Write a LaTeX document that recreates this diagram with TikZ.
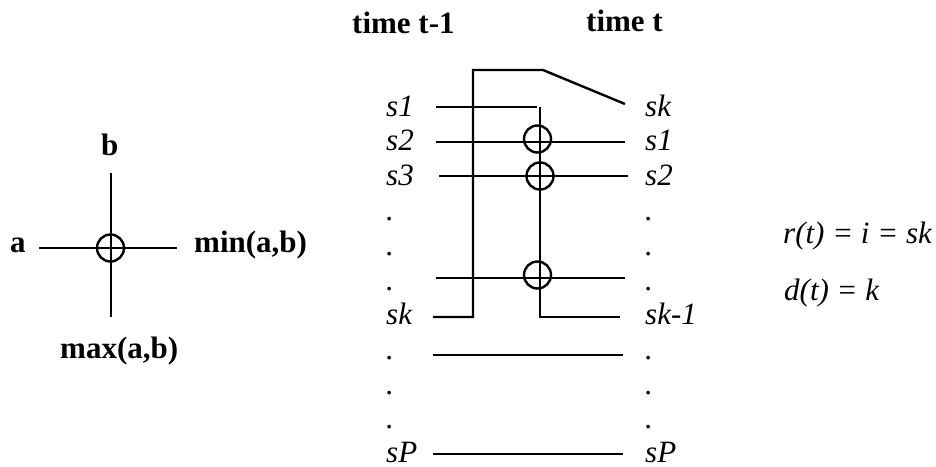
\documentclass[tikz,border=0pt]{standalone}
\usepackage{fontspec}
\setmainfont{Liberation Serif}
\begin{document}
\begin{tikzpicture}[x=1pt,y=-1pt,
  wire/.style={draw=black,line width=2.4pt,line join=miter},
  xorc/.style={circle,draw=black,line width=2.4pt,minimum size=27pt,inner sep=0pt,fill=none},
  bl/.style={anchor=base west,inner sep=0pt,font=\fontsize{31}{31}\selectfont\bfseries},
  il/.style={anchor=base west,inner sep=0pt,font=\fontsize{31}{31}\selectfont\itshape}]
\useasboundingbox (0,0) rectangle (936,466);
% titles
\node[bl] (tprev) at (352,33) {time t-1};
\node[bl] (tcur) at (586,31) {time t};
% left element
\node[bl] (a) at (10,252) {a};
\node[bl] (b) at (101,155) {b};
\node[bl] (mn) at (194,252) {min(a,b)};
\node[bl] (mx) at (60,358) {max(a,b)};
\coordinate (aL) at (39,248);
\coordinate (aR) at (177,248);
\coordinate (bT) at (111,173);
\coordinate (bB) at (111,317);
\draw[wire] (aL) -- (aR);
\draw[wire] (bT) -- (bB);
\node[xorc] (c0) at (110.5,248) {};
% left labels
\node[il] (ls1) at (386,116) {s1};
\node[il] (ls2) at (386,150) {s2};
\node[il] (ls3) at (386,185) {s3};
\node[il] (lsk) at (386,324) {sk};
\node[il] (lsP) at (386,462) {sP};
% right labels
\node[il] (rsk) at (645,116) {sk};
\node[il] (rs1) at (645,150) {s1};
\node[il] (rs2) at (645,185) {s2};
\node[il] (rsk1) at (645,324) {sk-1};
\node[il] (rsP) at (645,462) {sP};
% dots
\foreach \n/\y in {1/220,2/255,3/290,4/359,5/394,6/428}{
  \node[il] (dl\n) at (386,\y) {.};
  \node[il] (dr\n) at (645,\y) {.};
}
% wires
\coordinate (k0) at (433,317);
\coordinate (k1) at (473,317);
\coordinate (k2) at (473,70);
\coordinate (k3) at (543,70);
\coordinate (k4) at (625,104);
\draw[wire] (k0) -- (k1) -- (k2) -- (k3) -- (k4);
\coordinate (s1a) at (436,107);
\coordinate (s1b) at (537,107);
\draw[wire] (s1a) -- (s1b);
\coordinate (v0) at (540,107);
\coordinate (v1) at (540,317);
\coordinate (v2) at (620,317);
\draw[wire] (v0) -- (v1) -- (v2);
\coordinate (s2a) at (436,142);
\coordinate (s2b) at (625,142);
\draw[wire] (s2a) -- (s2b);
\coordinate (s3a) at (439,176);
\coordinate (s3b) at (628,176);
\draw[wire] (s3a) -- (s3b);
\coordinate (s4a) at (436,278);
\coordinate (s4b) at (625,278);
\draw[wire] (s4a) -- (s4b);
\coordinate (s5a) at (433,355);
\coordinate (s5b) at (623,355);
\draw[wire] (s5a) -- (s5b);
\coordinate (s6a) at (433,454);
\coordinate (s6b) at (623,454);
\draw[wire] (s6a) -- (s6b);
\node[xorc] (c1) at (537.5,139) {};
\node[xorc] (c2) at (540,176) {};
\node[xorc] (c3) at (537.5,275) {};
% formulas
\node[il] (f1) at (783,243) {r(t) = i = sk};
\node[il] (f2) at (784,300) {d(t) = k};
\end{tikzpicture}
\end{document}
